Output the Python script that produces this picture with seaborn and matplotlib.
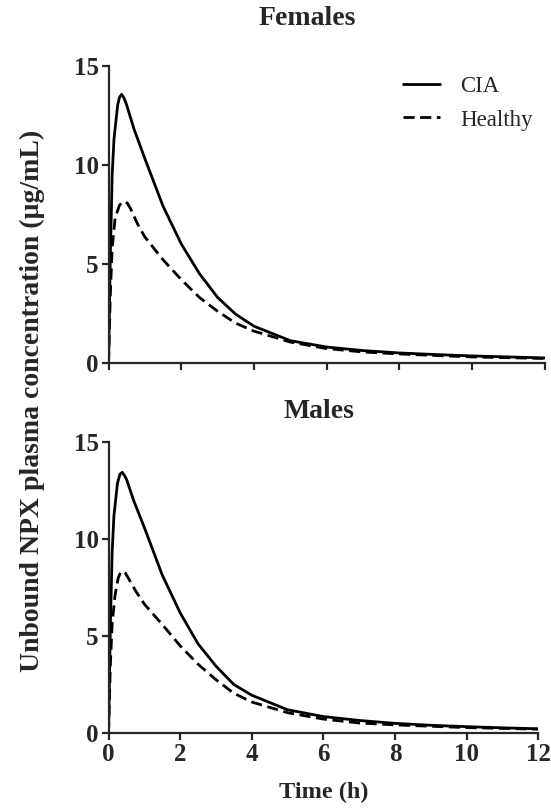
import pandas as pd
import matplotlib.pyplot as plt
import seaborn as sns

# Data (time in h, unbound NPX in ug/mL)
F_CIA_T = [0, 0.05, 0.1, 0.15, 0.25, 0.3, 0.36, 0.43, 0.5, 0.7, 1.0, 1.5, 2.0, 2.5, 3.0, 3.5, 4.0, 5.0, 6.0, 7.0, 8.0, 9.0, 10.0, 11.0, 12.0]
F_CIA_V = [0, 5.5, 9.5, 11.3, 13.0, 13.4, 13.55, 13.35, 13.0, 11.8, 10.3, 7.9, 6.0, 4.5, 3.3, 2.45, 1.85, 1.12, 0.8, 0.62, 0.5, 0.42, 0.35, 0.3, 0.25]

F_HEA_T = [0, 0.05, 0.1, 0.18, 0.3, 0.38, 0.45, 0.52, 0.6, 0.8, 1.0, 1.5, 2.0, 2.5, 3.0, 3.5, 4.0, 5.0, 6.0, 7.0, 8.0, 9.0, 10.0, 11.0, 12.0]
F_HEA_V = [0, 3.5, 5.8, 7.3, 7.95, 8.1, 8.15, 8.05, 7.8, 7.0, 6.35, 5.2, 4.2, 3.3, 2.6, 2.0, 1.6, 1.05, 0.72, 0.55, 0.45, 0.37, 0.3, 0.26, 0.22]

M_CIA_T = [0, 0.05, 0.1, 0.15, 0.25, 0.32, 0.38, 0.44, 0.5, 0.7, 1.0, 1.5, 2.0, 2.5, 3.0, 3.5, 4.0, 5.0, 6.0, 7.0, 8.0, 9.0, 10.0, 11.0, 12.0]
M_CIA_V = [0, 5.5, 9.3, 11.2, 12.9, 13.35, 13.45, 13.3, 13.1, 12.0, 10.6, 8.15, 6.2, 4.6, 3.45, 2.5, 1.95, 1.2, 0.85, 0.65, 0.5, 0.4, 0.33, 0.27, 0.22]

M_HEA_T = [0, 0.05, 0.1, 0.18, 0.27, 0.34, 0.4, 0.47, 0.55, 0.75, 1.0, 1.5, 2.0, 2.5, 3.0, 3.5, 4.0, 5.0, 6.0, 7.0, 8.0, 9.0, 10.0, 11.0, 12.0]
M_HEA_V = [0, 3.5, 5.6, 7.1, 8.0, 8.3, 8.35, 8.25, 8.0, 7.35, 6.65, 5.6, 4.5, 3.55, 2.75, 2.05, 1.6, 1.05, 0.72, 0.52, 0.42, 0.35, 0.28, 0.24, 0.2]

PANELS = ["Females", "Males"]
X_TICKS = [0, 2, 4, 6, 8, 10, 12]
Y_TICKS = [0, 5, 10, 15]

sns.set_style("ticks")
plt.rcParams["font.family"] = ["Liberation Serif", "DejaVu Serif"]
plt.rcParams["axes.linewidth"] = 1.6

fig = plt.figure(figsize=(5.51, 8.10), dpi=100)
ax_top = fig.add_axes([0.197, 0.552, 0.792, 0.367])
ax_bot = fig.add_axes([0.197, 0.095, 0.780, 0.359], sharex=ax_top)

series = [
    (ax_top, F_CIA_T, F_CIA_V, F_HEA_T, F_HEA_V),
    (ax_bot, M_CIA_T, M_CIA_V, M_HEA_T, M_HEA_V),
]

for ax, ct, cv, ht, hv in series:
    cia = pd.DataFrame({"t": ct, "v": cv})
    hea = pd.DataFrame({"t": ht, "v": hv})
    sns.lineplot(data=cia, x="t", y="v", ax=ax, color="black", lw=2, label="CIA")
    sns.lineplot(data=hea, x="t", y="v", ax=ax, color="black", lw=2,
                 linestyle=(0, (4, 2)), label="Healthy")
    ax.set_xlim(0, 12)
    ax.set_ylim(0, 15)
    ax.set_xticks(X_TICKS)
    ax.set_yticks(Y_TICKS)
    ax.set_xlabel("")
    ax.set_ylabel("")
    sns.despine(ax=ax)
    ax.tick_params(direction="out", length=5, width=1.6, labelsize=18, pad=2)
    for lab in ax.get_xticklabels() + ax.get_yticklabels():
        lab.set_fontweight("bold")

ax_top.tick_params(labelbottom=False)
ax_bot.get_legend().remove()
ax_top.legend(loc="upper right", frameon=False, fontsize=16.5, handlelength=1.6,
              handletextpad=0.9, labelspacing=0.55, bbox_to_anchor=(1.02, 1.035))

ax_top.text(0.455, 1.16, PANELS[0], transform=ax_top.transAxes, ha="center",
            va="center", fontsize=20, fontweight="bold")
ax_bot.text(0.49, 1.105, PANELS[1], transform=ax_bot.transAxes, ha="center",
            va="center", fontsize=20, fontweight="bold")

fig.text(0.058, 0.505, "Unbound NPX plasma concentration (µg/mL)", rotation=90,
         ha="center", va="center", fontsize=20, fontweight="bold")
fig.text(0.588, 0.022, "Time (h)", ha="center", va="center", fontsize=17.5,
         fontweight="bold")

fig.savefig("out.png", dpi=100)
